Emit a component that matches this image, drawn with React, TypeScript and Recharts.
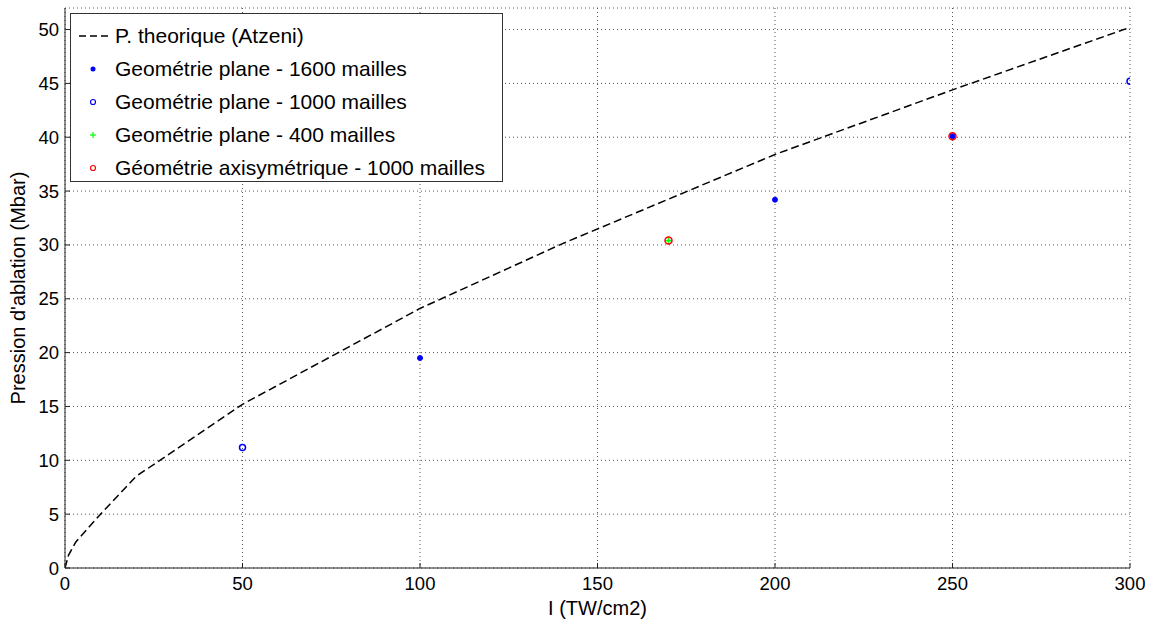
import React from 'react';
import { ComposedChart, Line, Scatter, XAxis, YAxis, CartesianGrid } from 'recharts';

const theoryX = [0, 1, 3, 10, 20, 50, 100, 140, 200, 250, 300];
const theoryY = [0, 1.2, 2.4, 5.0, 8.5, 15.2, 24.1, 30.1, 38.4, 44.4, 50.2];

const plane1600X = [100, 200, 250];
const plane1600Y = [19.5, 34.2, 40.1];
const plane1000X = [50, 300];
const plane1000Y = [11.2, 45.2];
const plane400X = [170];
const plane400Y = [30.4];
const axiX = [170, 250];
const axiY = [30.4, 40.1];

const xTicks = [0, 50, 100, 150, 200, 250, 300];
const yTicks = [0, 5, 10, 15, 20, 25, 30, 35, 40, 45, 50];

const legendLabels = [
  'P. theorique (Atzeni)',
  'Geométrie plane - 1600 mailles',
  'Geométrie plane - 1000 mailles',
  'Geométrie plane - 400 mailles',
  'Géométrie axisymétrique - 1000 mailles',
];

const zip = (xs: number[], ys: number[]) => xs.map((x, i) => ({ x, y: ys[i] }));

const theory = zip(theoryX, theoryY);
const p1600 = zip(plane1600X, plane1600Y);
const p1000 = zip(plane1000X, plane1000Y);
const p400 = zip(plane400X, plane400Y);
const axi = zip(axiX, axiY);

const FONT = '"Liberation Sans", Arial, Helvetica, sans-serif';

const FilledDot = (p: any) => <circle cx={p.cx} cy={p.cy} r={2.5} fill="#0000ff" stroke="#0000ff" strokeWidth={1} />;
const OpenBlue = (p: any) => <circle cx={p.cx} cy={p.cy} r={3} fill="none" stroke="#0000ff" strokeWidth={1.5} />;
const OpenRed = (p: any) => <circle cx={p.cx} cy={p.cy} r={3.5} fill="none" stroke="#ff0000" strokeWidth={1.5} />;
const Plus = (p: any) => (
  <g stroke="#00ff00" strokeWidth={1.5}>
    <line x1={p.cx - 3} y1={p.cy} x2={p.cx + 3} y2={p.cy} />
    <line x1={p.cx} y1={p.cy - 3} x2={p.cx} y2={p.cy + 3} />
  </g>
);

const legendMarks = [
  <svg width={32} height={10}><line x1={0} y1={5} x2={32} y2={5} stroke="#000" strokeWidth={1.5} strokeDasharray="7 4" /></svg>,
  <svg width={32} height={10}><circle cx={14} cy={5} r={2.5} fill="#0000ff" /></svg>,
  <svg width={32} height={10}><circle cx={14} cy={5} r={2.5} fill="none" stroke="#0000ff" strokeWidth={1.2} /></svg>,
  <svg width={32} height={10}><g stroke="#00ff00" strokeWidth={1.2}><line x1={11} y1={5} x2={17} y2={5} /><line x1={14} y1={2} x2={14} y2={8} /></g></svg>,
  <svg width={32} height={10}><circle cx={14} cy={5} r={2.5} fill="none" stroke="#ff0000" strokeWidth={1.2} /></svg>,
];

export default function App() {
  return (
    <div style={{ position: 'absolute', left: 0, top: 0, width: 1155, height: 628, background: '#fff', fontFamily: FONT }}>
      <ComposedChart width={1155} height={628} margin={{ top: 8, right: 25, left: 0, bottom: 0 }}>
        <CartesianGrid stroke="#555" strokeDasharray="1 3" />
        <XAxis
          dataKey="x"
          type="number"
          domain={[0, 300]}
          ticks={xTicks}
          height={60}
          stroke="#222"
          tickSize={-5}
          tickMargin={14}
          tick={{ fill: '#000', fontSize: 18.5, fontFamily: FONT }}
          allowDataOverflow
          label={{ value: 'I (TW/cm2)', position: 'insideBottom', offset: 13, style: { fill: '#000', fontSize: 20, fontFamily: FONT } }}
        />
        <YAxis
          dataKey="y"
          type="number"
          domain={[0, 52]}
          ticks={yTicks}
          width={65}
          stroke="#222"
          tickSize={-5}
          tickMargin={11}
          tick={{ fill: '#000', fontSize: 18.5, fontFamily: FONT }}
          allowDataOverflow
          label={{ value: "Pression d'ablation (Mbar)", angle: -90, position: 'insideLeft', offset: 18, style: { fill: '#000', fontSize: 20, fontFamily: FONT, textAnchor: 'middle' } }}
        />
        <XAxis xAxisId="top" orientation="top" type="number" domain={[0, 300]} ticks={xTicks} height={0} stroke="#666" strokeWidth={1.5} tickSize={-5} tick={false} />
        <YAxis yAxisId="right" orientation="right" type="number" domain={[0, 52]} ticks={yTicks} width={0} stroke="#666" strokeWidth={1.5} tickSize={-5} tick={false} />
        <Line data={theory} dataKey="y" type="linear" stroke="#000" strokeWidth={1.5} strokeDasharray="8 4" dot={false} isAnimationActive={false} />
        <Scatter data={p1000} dataKey="y" shape={OpenBlue} isAnimationActive={false} />
        <Scatter data={p400} dataKey="y" shape={Plus} isAnimationActive={false} />
        <Scatter data={p1600} dataKey="y" shape={FilledDot} isAnimationActive={false} />
        <Scatter data={axi} dataKey="y" shape={OpenRed} isAnimationActive={false} />
      </ComposedChart>
      <div style={{ position: 'absolute', left: 70, top: 13, width: 431, height: 167, border: '1px solid #333', background: '#fff' }}>
        {legendLabels.map((t, i) => (
          <div key={i} style={{ position: 'absolute', left: 8, top: 9 + i * 33, height: 26, display: 'flex', alignItems: 'center', fontSize: 21, color: '#000', whiteSpace: 'nowrap' }}>
            <div style={{ width: 36, display: 'flex', alignItems: 'center' }}>{legendMarks[i]}</div>
            <span>{t}</span>
          </div>
        ))}
      </div>
    </div>
  );
}
